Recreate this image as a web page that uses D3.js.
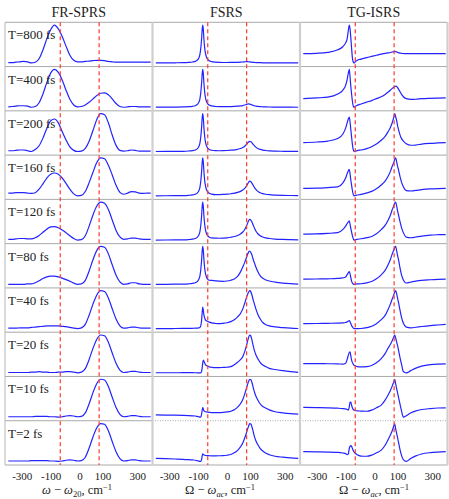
<!DOCTYPE html>
<html>
<head>
<meta charset="utf-8">
<script src="https://cdn.jsdelivr.net/npm/d3@7"></script>
<style>
  body { margin: 0; background: #fff; }
  text { font-family: "Liberation Serif", "Times New Roman", serif; fill: #222; }
</style>
</head>
<body>
<div id="chart"></div>
<script>
// panel titles, delays and axis ticks
var panelTitles = ["FR-SPRS", "FSRS", "TG-ISRS"];
var delays = ["T=800 fs", "T=400 fs", "T=200 fs", "T=160 fs", "T=120 fs",
              "T=80 fs", "T=40 fs", "T=20 fs", "T=10 fs", "T=2 fs"];
var tickPositions = [-300, -150, 0, 120, 300];
var tickLabels = ["-300", "-100", "0", "100", "300"];
var markerLines = [-100, 102];

// frequency grids, cm-1
var gridSprs = [-370,-350,-330,-310,-290,-270,-250,-230,-210,-190,-170,-150,-130,-110,-90,
                -70,-50,-30,-10,10,30,50,70,90,110,130,150,170,190,210,230,250,270,290,310,330,350,370];
var gridFsrs = [-370,-320,-270,-230,-200,-180,-165,-155,-147,-141,-136,-132,-129,-126,-123,
                -120,-116,-112,-107,-100,-92,-80,-60,-40,-20,0,20,40,55,70,82,92,100,106,112,
                118,124,130,136,143,150,160,172,186,200,220,250,290,330,370];
var gridIsrs = [-370,-300,-243,-191,-165,-150,-142,-136,-131,-127,-123,-119,-115,-111,-107,
                -100,-90,-70,-40,-15,10,35,55,70,82,92,100,105,110,115,120,126,132,140,150,
                165,190,215,245,290,330,370];

// FR-SPRS signal, one row per delay
var sprs = [
  [2,2,3,4,5, 4,1,3,12,35, 64,88,100,90,70, 45,21,8,4,4, 5,6,7,8,8, 7,5,4,3,3, 3,3,3,3,3, 3,3,3],
  [1,2,3,4,4, 3,0,2,12,35, 65,90,100,92,72, 45,21,6,1,2, 6,13,22,31,37, 38,33,22,10,2, 0,1,2,2,1, 1,1,1],
  [2,2,3,4,4, 2,0,5,15,35, 60,80,85,75,52, 30,12,3,0,1, 8,27,55,84,99, 96,75,43,16,3, 1,2,4,3,1, 1,1,1],
  [8,8,9,9,9, 8,7,9,18,32, 47,57,60,57,47, 33,18,6,1,2, 12,35,62,87,99, 97,80,55,28,10, 5,8,12,11,8, 7,8,8],
  [3,3,4,5,5, 4,4,7,13,21, 29,35,36,33,27, 20,12,5,1,2, 12,37,66,89,99, 96,80,53,26,9, 3,4,6,6,4, 3,3,3],
  [2,2,2,2,2, 3,3,6,11,17, 21,23,23,21,18, 14,10,5,2,3, 12,36,65,89,99, 97,80,52,25,8, 2,3,6,6,3, 2,2,2],
  [1,1,1,2,2, 2,3,4,5,6, 7,7,7,7,6, 5,3,1,0,2, 11,35,64,88,99, 97,80,52,25,7, 1,2,4,4,2, 1,1,1],
  [1,1,1,1,1, 1,2,2,3,2, 2,1,1,2,2, 3,3,2,0,2, 11,35,64,88,99, 97,80,52,25,7, 1,2,4,4,2, 1,1,1],
  [1,1,1,1,1, 1,1,2,2,2, 2,1,1,0,1, 3,4,3,1,2, 11,35,64,88,99, 97,80,52,25,7, 1,2,4,4,2, 1,1,1],
  [1,1,1,1,1, 1,2,2,2,2, 2,1,1,0,1, 3,4,3,1,2, 11,35,64,88,99, 97,80,52,25,7, 1,2,4,4,2, 1,1,1]
];

// FSRS signal
var fsrs = [
  [0.5,0.6,0.8,1.1,1.8, 2.8,4.5,7.5,13,22, 40,64,88,100,88, 64,40,26,16,9.5, 6,3.8,
   2.3,1.8,1.6, 1.6,1.7,1.8,2,2.4, 2.9,3.4,3.7,3.7,3.5, 3.1,2.7,2.3,2,1.7, 1.4,1.2,1,0.8,0.7, 0.6,0.5,0.4,0.4,0.3],
  [0.5,0.6,0.8,1.1,1.8, 2.8,4.5,7.5,13,22, 40,64,88,100,88, 64,40,26,16,9.5, 6,3.8,
   2.4,2,1.9,2,2.2, 2.6,3.1,3.8,4.8,6.2, 7.6,8.6,9,8.7,7.8, 6.5,5.3,4.2,3.4,2.6, 2,1.6,1.3,1,0.8, 0.6,0.5,0.4],
  [0.5,0.6,0.8,1.1,1.8, 2.8,4.5,7.5,13,22, 40,64,88,100,88, 64,40,26,16,9.5, 6,3.8,
   2.6,2.5,2.7,3.2,3.9, 5,6.3,8.3,11,14.5, 18.5,22,25.5,27,26, 23,19.5,15.5,12,8.5, 6,4.2,3.2,2.3,1.6, 1.1,0.8,0.6],
  [0.4,0.5,0.7,1,1.7, 2.7,4.4,7.4,13,22, 40,64,88,100,88, 65,41,27,17,10.5, 7,4.8,
   3.5,3.5,4,4.8,5.8, 7.3,9.2,12,15.5,20, 25.5,30.5,36,39,37.5, 33,28,22,17,12, 8.5,6,4.5,3.2,2.2, 1.5,1.1,0.8],
  [0.4,0.5,0.7,1,1.7, 2.7,4.4,7.4,13,22, 40,64,88,100,88, 65,42,28,18,11.5, 8,6,
   5.5,5.2,5.6,6.3,7.7, 9.8,12.5,16.5,21.5,28, 36,43,51,55,53, 47,40,31.5,24,17, 12,8.5,6.3,4.5,3, 2,1.5,1.1],
  [0.3,0.4,0.6,0.9,1.6, 2.6,4.3,7.3,13,22, 40,64,88,100,89, 66,43,29,19.5,13.5, 11,10.5,
   9.5,8.5,8.2,9,11, 15,21,33,46,58, 69,78,85,88,84, 77,66,56,46,34, 23,16,12.5,9,6, 3.5,2,1],
  [0,0,0.2,0.4,0.6, 0.8,1,1.3,1.8,3, 8,22,42,57,48, 36,28,23,20.5,19, 17,15,
   13.5,13,14,15.5,18.5, 24,31,40,52,67, 80,89,96,100,97, 88,76,64,52,38, 26,16,11,7,4.5, 2.5,1,0.3],
  [0.5,0.5,0.5,0.6,0.6, 0.6,0.5,0.4,0.3,0.2, 0.3,4,14,26,34, 31,26,22,19.5,17.5, 16,15,
   14,14,14.5,15,16.5, 22,28,35,43,56, 70,82,93,100,97, 86,72,58,48,38, 28,21,17,12,9, 6,3.5,1.5],
  [6,5.5,5,4.5,4, 3.5,3,2,1,0, 0.5,8,18,25,21, 17,15,14,13.5,13, 12.5,12,
   12,12,12.5,13.5,15.5, 20,26,35,46,60, 74,84,93,99,98, 90,78,65,55,45, 35,28,24,19,14, 11,9,8],
  [8,7.2,6.3,5.5,4.6, 3.8,3,2,1,0.2, 0,5,14,20,18.5, 17,16,15.5,15,15, 14.8,14.7,
   14.7,14.8,15,16,18, 23,29,38,48,61, 73,83,92,99,98, 90,78,64,54,44, 34,27,22,17.5,13.5, 11,9,8]
];

// TG-ISRS signal
var isrs = [
  [24,25,27.5,34,42, 52,63,84,98,88, 65,38,14,3,0, 3,7,10,14,17, 20,23,25,26,27,
   28.5,29.5,30,29.5,28.5, 27.5,26.5,25.5,25,24.5, 24,24,24,24,24, 24,24],
  [23,25,27,35,45, 58,74,90,100,80, 55,35,17,5,0.5, 3,5.5,9,14,18, 23,28,34,40,45,
   50,53,55,56,55, 52,47,42,35,28, 23,21,21.5,23,24, 24.5,25],
  [24,25.5,28,34.5,46, 62,76,86,91,78, 58,38,20,7,0.5, 1.5,3,4.5,8,13, 20,30,40,52,63,
   76,90,100,92,82, 68,56,45,35,28, 21,17,17.5,20,22, 23,24],
  [20,20.5,22,24,34, 47,59,66,70,58, 42,28,15,5,0.5, 1.5,2.5,4,8,12, 19,29,39,51,64,
   78,88,96,100,90, 78,66,52,37,24, 14,13,14.5,16.5,18.5, 19.5,20],
  [16,16.5,18,20,28, 37,44,48,51,42, 31,21,12,5,0.5, 1.5,2.5,4,7,10, 17,28,39,52,65,
   80,90,97,100,90, 77,64,50,34,20, 8,6.5,8.5,11,13.5, 14.5,15],
  [14,14.5,15,16,17.5, 20,26,31,34,28, 18,9,4,1.5,0.5, 1,1.5,2,4.5,8, 15,25.5,37,51,65,
   80,90,97,100,89, 76,62,45,26,12, 4,6.5,9,11,12.5, 13.5,14],
  [13,13.5,14,14.5,15, 16,18,20,21,18, 13,8,4.5,2,0.5, 0,0,0.3,2.5,6, 13,23.5,35,50,64,
   78,89,96,100,92, 80,66,50,30,14, 4,2,3.5,5.5,8, 9.5,11],
  [25,25,24.5,24,23.5, 26,36,47,54,56, 45,34,28,24,21, 19,17,16,17,20, 27,38,51,65,75,
   85,95,100,92,82, 72,57,42,24,4, 0.5,7,13,18,22, 23.5,24],
  [26,25.5,25,24,23, 22,20.5,19,28,40, 40,32,25,21,19, 18,17,16.5,16,19, 25,32,45,58,70,
   82,93,100,88,76, 64,50,36,18,0.5, 4,12,17,20.5,23, 24.5,25],
  [26,25.5,25,24,22.5, 21,18,20,35,40, 42,40,35,30,26, 22,18,14.5,14,17, 23,30,43,57,69,
   81,93,100,86,74, 62,48,33,17,5, 0.5,9,15,20,23.5, 25,26]
];

var axisTitles = [
  [["ω", "i"], [" − ", ""], ["ω", "i"], ["20", "sub"], [", cm", ""], ["−1", "sup"]],
  [["Ω", ""], [" − ", ""], ["ω", "i"], ["ac", "subi"], [", cm", ""], ["−1", "sup"]],
  [["Ω", ""], [" − ", ""], ["ω", "i"], ["ac", "subi"], [", cm", ""], ["−1", "sup"]]
];

function init() {
    var w = 449;
    var h = 499;
    var left = 5;
    var colW = 147.5;
    var top = 22.3;
    var rowH = 44.27;
    var bottom = top + rowH * delays.length;

    var columns = [
        { grid: gridSprs, rows: sprs },
        { grid: gridFsrs, rows: fsrs },
        { grid: gridIsrs, rows: isrs }
    ];
    var titleX = [77, 220, 374];

    var svg = d3.select("#chart")
        .append("svg")
        .attr("width", w)
        .attr("height", h);

    columns.forEach(function (col, c) {
        var x0 = left + c * colW;

        var scaleX = d3.scaleLinear()
            .domain([-370, 370])
            .range([x0 + 3.3, x0 + colW - 1.8]);

        // panel title
        svg.append("text")
            .attr("x", x0 + colW / 2)
            .attr("y", 17)
            .attr("text-anchor", "middle")
            .style("font-size", "14px")
            .text(panelTitles[c]);

        // panel frames
        delays.forEach(function (d, r) {
            var yTop = top + r * rowH;
            svg.append("line")
                .attr("x1", x0).attr("x2", x0 + colW)
                .attr("y1", yTop).attr("y2", yTop)
                .attr("stroke", "#a9a9a9")
                .attr("stroke-width", 1)
                .attr("stroke-dasharray", (r == delays.length - 1 && c > 0) ? "1,1.5" : null);
        });
        svg.append("line")
            .attr("x1", x0).attr("x2", x0 + colW)
            .attr("y1", bottom).attr("y2", bottom)
            .attr("stroke", "#a9a9a9");

        // curves
        col.rows.forEach(function (vals, r) {
            var yTop = top + r * rowH;
            var pts = col.grid.map(function (g, i) {
                return [g, vals[i]];
            }).filter(function (p) { return p[1] !== undefined; });

            var scaleY = d3.scaleLinear()
                .domain(d3.extent(pts, function (p) { return p[1]; }))
                .range([yTop + rowH - 3.6, yTop + 2.8]);

            var line = d3.line()
                .x(function (p) { return scaleX(p[0]); })
                .y(function (p) { return scaleY(p[1]); })
                .curve(d3.curveMonotoneX);

            svg.append("path")
                .datum(pts)
                .attr("d", line)
                .attr("fill", "none")
                .attr("stroke", "#2323ff")
                .attr("stroke-width", 1.2);

            if (c == 0) {
                svg.append("text")
                    .attr("x", x0 + 3)
                    .attr("y", yTop + 17)
                    .style("font-size", "13px")
                    .text(delays[r]);
            }
        });

        // marker lines
        svg.selectAll(null)
            .data(markerLines)
            .enter()
            .append("line")
            .attr("x1", function (d) { return scaleX(d); })
            .attr("x2", function (d) { return scaleX(d); })
            .attr("y1", top)
            .attr("y2", bottom)
            .attr("stroke", "#ff3a2a")
            .attr("stroke-width", 1.2)
            .attr("stroke-dasharray", "4,3");

        // tick labels
        var axis = d3.axisBottom(scaleX)
            .tickValues(tickPositions)
            .tickFormat(function (d, i) { return tickLabels[i]; })
            .tickSize(0)
            .tickPadding(7.5);
        var g = svg.append("g")
            .attr("transform", "translate(0," + bottom + ")")
            .call(axis);
        g.select(".domain").remove();
        g.selectAll("text")
            .style("font-family", "'Liberation Serif', serif")
            .style("font-size", "11px")
            .attr("fill", "#222");

        // axis title
        var t = svg.append("text")
            .attr("x", titleX[c])
            .attr("y", 494)
            .attr("text-anchor", "middle")
            .style("font-size", "12.5px");
        var shift = 0;
        axisTitles[c].forEach(function (part) {
            var target = 0;
            if (part[1] == "sub" || part[1] == "subi") target = 2.5;
            if (part[1] == "sup") target = -4.5;
            var ts = t.append("tspan")
                .attr("dy", target - shift)
                .text(part[0]);
            if (part[1] == "i" || part[1] == "subi") ts.style("font-style", "italic");
            if (target != 0) ts.style("font-size", "8.5px");
            shift = target;
        });
    });

    // outer frame and column separators
    svg.append("line")
        .attr("x1", left).attr("x2", left)
        .attr("y1", top).attr("y2", bottom)
        .attr("stroke", "#b5b5b5").attr("stroke-width", 1);
    [1, 2, 3].forEach(function (k) {
        svg.append("line")
            .attr("x1", left + k * colW).attr("x2", left + k * colW)
            .attr("y1", top).attr("y2", bottom)
            .attr("stroke", "#cfcfcf").attr("stroke-width", 2.2);
    });
}

window.onload = init;
</script>
</body>
</html>
